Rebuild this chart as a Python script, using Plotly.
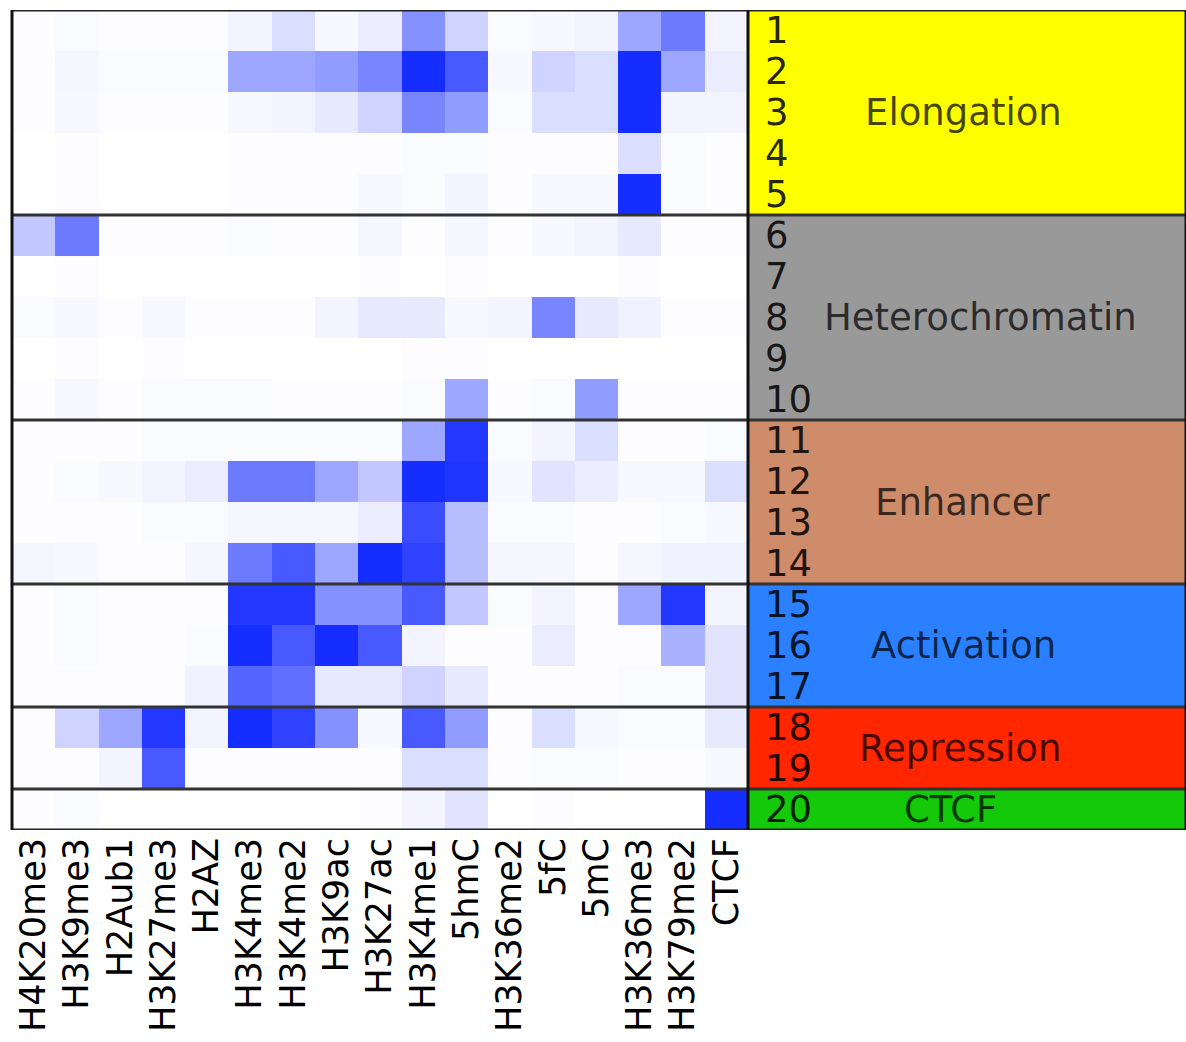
import plotly.graph_objects as go

marks = ["H4K20me3", "H3K9me3", "H2Aub1", "H3K27me3", "H2AZ", "H3K4me3", "H3K4me2",
         "H3K9ac", "H3K27ac", "H3K4me1", "5hmC", "H3K36me2", "5fC", "5mC",
         "H3K36me3", "H3K79me2", "CTCF"]
states = list(range(1, 21))

groups = ["Elongation", "Heterochromatin", "Enhancer", "Activation", "Repression", "CTCF"]
group_sizes = [5, 5, 4, 3, 2, 1]
group_colors = ["#ffff00", "#999999", "#cf8c6b", "#2b80ff", "#ff2600", "#14c80a"]

# emission intensities (0..1), rows = states 1..20, columns = marks
s01 = [0.01, 0.02, 0.01, 0.01, 0.01, 0.05, 0.15, 0.03, 0.08, 0.50, 0.20, 0.02, 0.03, 0.05, 0.40, 0.60, 0.05]
s02 = [0.01, 0.04, 0.02, 0.02, 0.02, 0.40, 0.40, 0.45, 0.55, 0.95, 0.75, 0.03, 0.20, 0.15, 0.95, 0.40, 0.08]
s03 = [0.01, 0.03, 0.01, 0.01, 0.01, 0.03, 0.05, 0.10, 0.20, 0.55, 0.45, 0.02, 0.15, 0.15, 0.95, 0.05, 0.05]
s04 = [0.00, 0.01, 0.00, 0.00, 0.00, 0.01, 0.01, 0.01, 0.01, 0.02, 0.02, 0.01, 0.01, 0.01, 0.15, 0.02, 0.01]
s05 = [0.00, 0.01, 0.00, 0.00, 0.00, 0.01, 0.01, 0.01, 0.03, 0.02, 0.05, 0.01, 0.03, 0.03, 0.95, 0.02, 0.01]
s06 = [0.25, 0.60, 0.01, 0.01, 0.01, 0.02, 0.01, 0.01, 0.04, 0.01, 0.04, 0.01, 0.03, 0.05, 0.10, 0.01, 0.01]
s07 = [0.00, 0.01, 0.00, 0.00, 0.00, 0.00, 0.00, 0.00, 0.01, 0.00, 0.01, 0.00, 0.00, 0.00, 0.01, 0.00, 0.00]
s08 = [0.02, 0.03, 0.01, 0.03, 0.01, 0.01, 0.01, 0.05, 0.10, 0.10, 0.03, 0.05, 0.55, 0.10, 0.06, 0.01, 0.01]
s09 = [0.00, 0.01, 0.00, 0.01, 0.00, 0.00, 0.00, 0.00, 0.00, 0.01, 0.01, 0.00, 0.00, 0.00, 0.00, 0.00, 0.00]
s10 = [0.01, 0.03, 0.01, 0.02, 0.02, 0.02, 0.01, 0.01, 0.01, 0.02, 0.40, 0.01, 0.02, 0.45, 0.01, 0.01, 0.01]
s11 = [0.01, 0.01, 0.01, 0.02, 0.02, 0.02, 0.02, 0.02, 0.02, 0.40, 0.90, 0.02, 0.05, 0.15, 0.01, 0.01, 0.02]
s12 = [0.01, 0.02, 0.03, 0.05, 0.08, 0.60, 0.60, 0.40, 0.25, 0.95, 0.92, 0.03, 0.12, 0.08, 0.03, 0.03, 0.15]
s13 = [0.01, 0.01, 0.01, 0.02, 0.02, 0.04, 0.04, 0.04, 0.08, 0.80, 0.30, 0.02, 0.02, 0.01, 0.01, 0.02, 0.03]
s14 = [0.04, 0.03, 0.01, 0.01, 0.04, 0.60, 0.75, 0.40, 0.95, 0.85, 0.30, 0.04, 0.04, 0.01, 0.04, 0.06, 0.06]
s15 = [0.01, 0.02, 0.01, 0.01, 0.01, 0.90, 0.90, 0.50, 0.50, 0.75, 0.25, 0.02, 0.05, 0.01, 0.40, 0.90, 0.05]
s16 = [0.01, 0.02, 0.01, 0.01, 0.02, 0.95, 0.75, 0.95, 0.75, 0.05, 0.01, 0.01, 0.08, 0.01, 0.01, 0.35, 0.12]
s17 = [0.01, 0.01, 0.01, 0.01, 0.06, 0.70, 0.65, 0.10, 0.10, 0.20, 0.10, 0.01, 0.01, 0.01, 0.02, 0.02, 0.12]
s18 = [0.01, 0.20, 0.40, 0.90, 0.05, 0.95, 0.85, 0.50, 0.03, 0.75, 0.45, 0.01, 0.15, 0.03, 0.02, 0.02, 0.10]
s19 = [0.01, 0.01, 0.05, 0.75, 0.01, 0.01, 0.01, 0.01, 0.01, 0.15, 0.15, 0.01, 0.02, 0.02, 0.01, 0.01, 0.03]
s20 = [0.01, 0.02, 0.00, 0.00, 0.00, 0.00, 0.00, 0.00, 0.01, 0.05, 0.12, 0.00, 0.01, 0.00, 0.00, 0.00, 0.95]
values = [s01, s02, s03, s04, s05, s06, s07, s08, s09, s10,
          s11, s12, s13, s14, s15, s16, s17, s18, s19, s20]

W, H = 1186, 1042
ML, MR, MT, MB = 12, 0, 10, 212
plot_w = W - ML - MR
X1 = (748 - ML) / plot_w  # right edge of heatmap in paper coords

FONT = "DejaVu Sans"

fig = go.Figure(go.Heatmap(
    z=values, x=marks, y=states,
    colorscale=[[0, "#ffffff"], [1, "#0a22ff"]],
    zmin=0, zmax=1, showscale=False,
))

shapes = []
# group colour panels and labels
annotations = []
label_dx = {"Heterochromatin": 17, "CTCF": -13, "Repression": -3}
start = 0
for g, n, c in zip(groups, group_sizes, group_colors):
    y0, y1 = start + 0.5, start + n + 0.5
    shapes.append(dict(type="rect", xref="paper", yref="y", x0=X1, x1=1.0,
                       y0=y0, y1=y1, fillcolor=c, line=dict(width=0), layer="below"))
    xc = X1 + (963 - 748 + label_dx.get(g, 0)) / plot_w
    annotations.append(dict(xref="paper", yref="y", x=xc, y=(y0 + y1) / 2,
                            text=g, showarrow=False, xanchor="center", yanchor="middle",
                            font=dict(family=FONT, size=37, color="rgba(0,0,0,0.72)")))
    start += n

# state numbers
for s in states:
    annotations.append(dict(xref="paper", yref="y", x=X1 + 15 / plot_w, y=s,
                            text=str(s), showarrow=False, xanchor="left", yanchor="middle",
                            font=dict(family=FONT, size=37, color="rgba(0,0,0,0.85)")))

# separators
bounds = [0]
for n in group_sizes:
    bounds.append(bounds[-1] + n)
for b in bounds:
    shapes.append(dict(type="line", xref="paper", yref="y", x0=0, x1=1,
                       y0=b + 0.5, y1=b + 0.5,
                       line=dict(color="#333333" if 0 < b < 20 else "#222222", width=3)))
# vertical borders
for xv in (0, X1, 1.0):
    shapes.append(dict(type="line", xref="paper", yref="y", x0=xv, x1=xv,
                       y0=0.5, y1=20.5, line=dict(color="#111111", width=3)))

fig.update_layout(
    width=W, height=H,
    margin=dict(l=ML, r=MR, t=MT, b=MB),
    paper_bgcolor="white", plot_bgcolor="white",
    shapes=shapes, annotations=annotations,
    xaxis=dict(domain=[0, X1], range=[-0.5, 16.5], tickangle=-90, ticks="",
               showgrid=False, zeroline=False, showline=False,
               tickfont=dict(family=FONT, size=35, color="black")),
    yaxis=dict(domain=[0, 1], range=[20.5, 0.5], showticklabels=False, ticks="",
               showgrid=False, zeroline=False, showline=False),
    font=dict(family=FONT),
)

fig.write_html("out.html")
